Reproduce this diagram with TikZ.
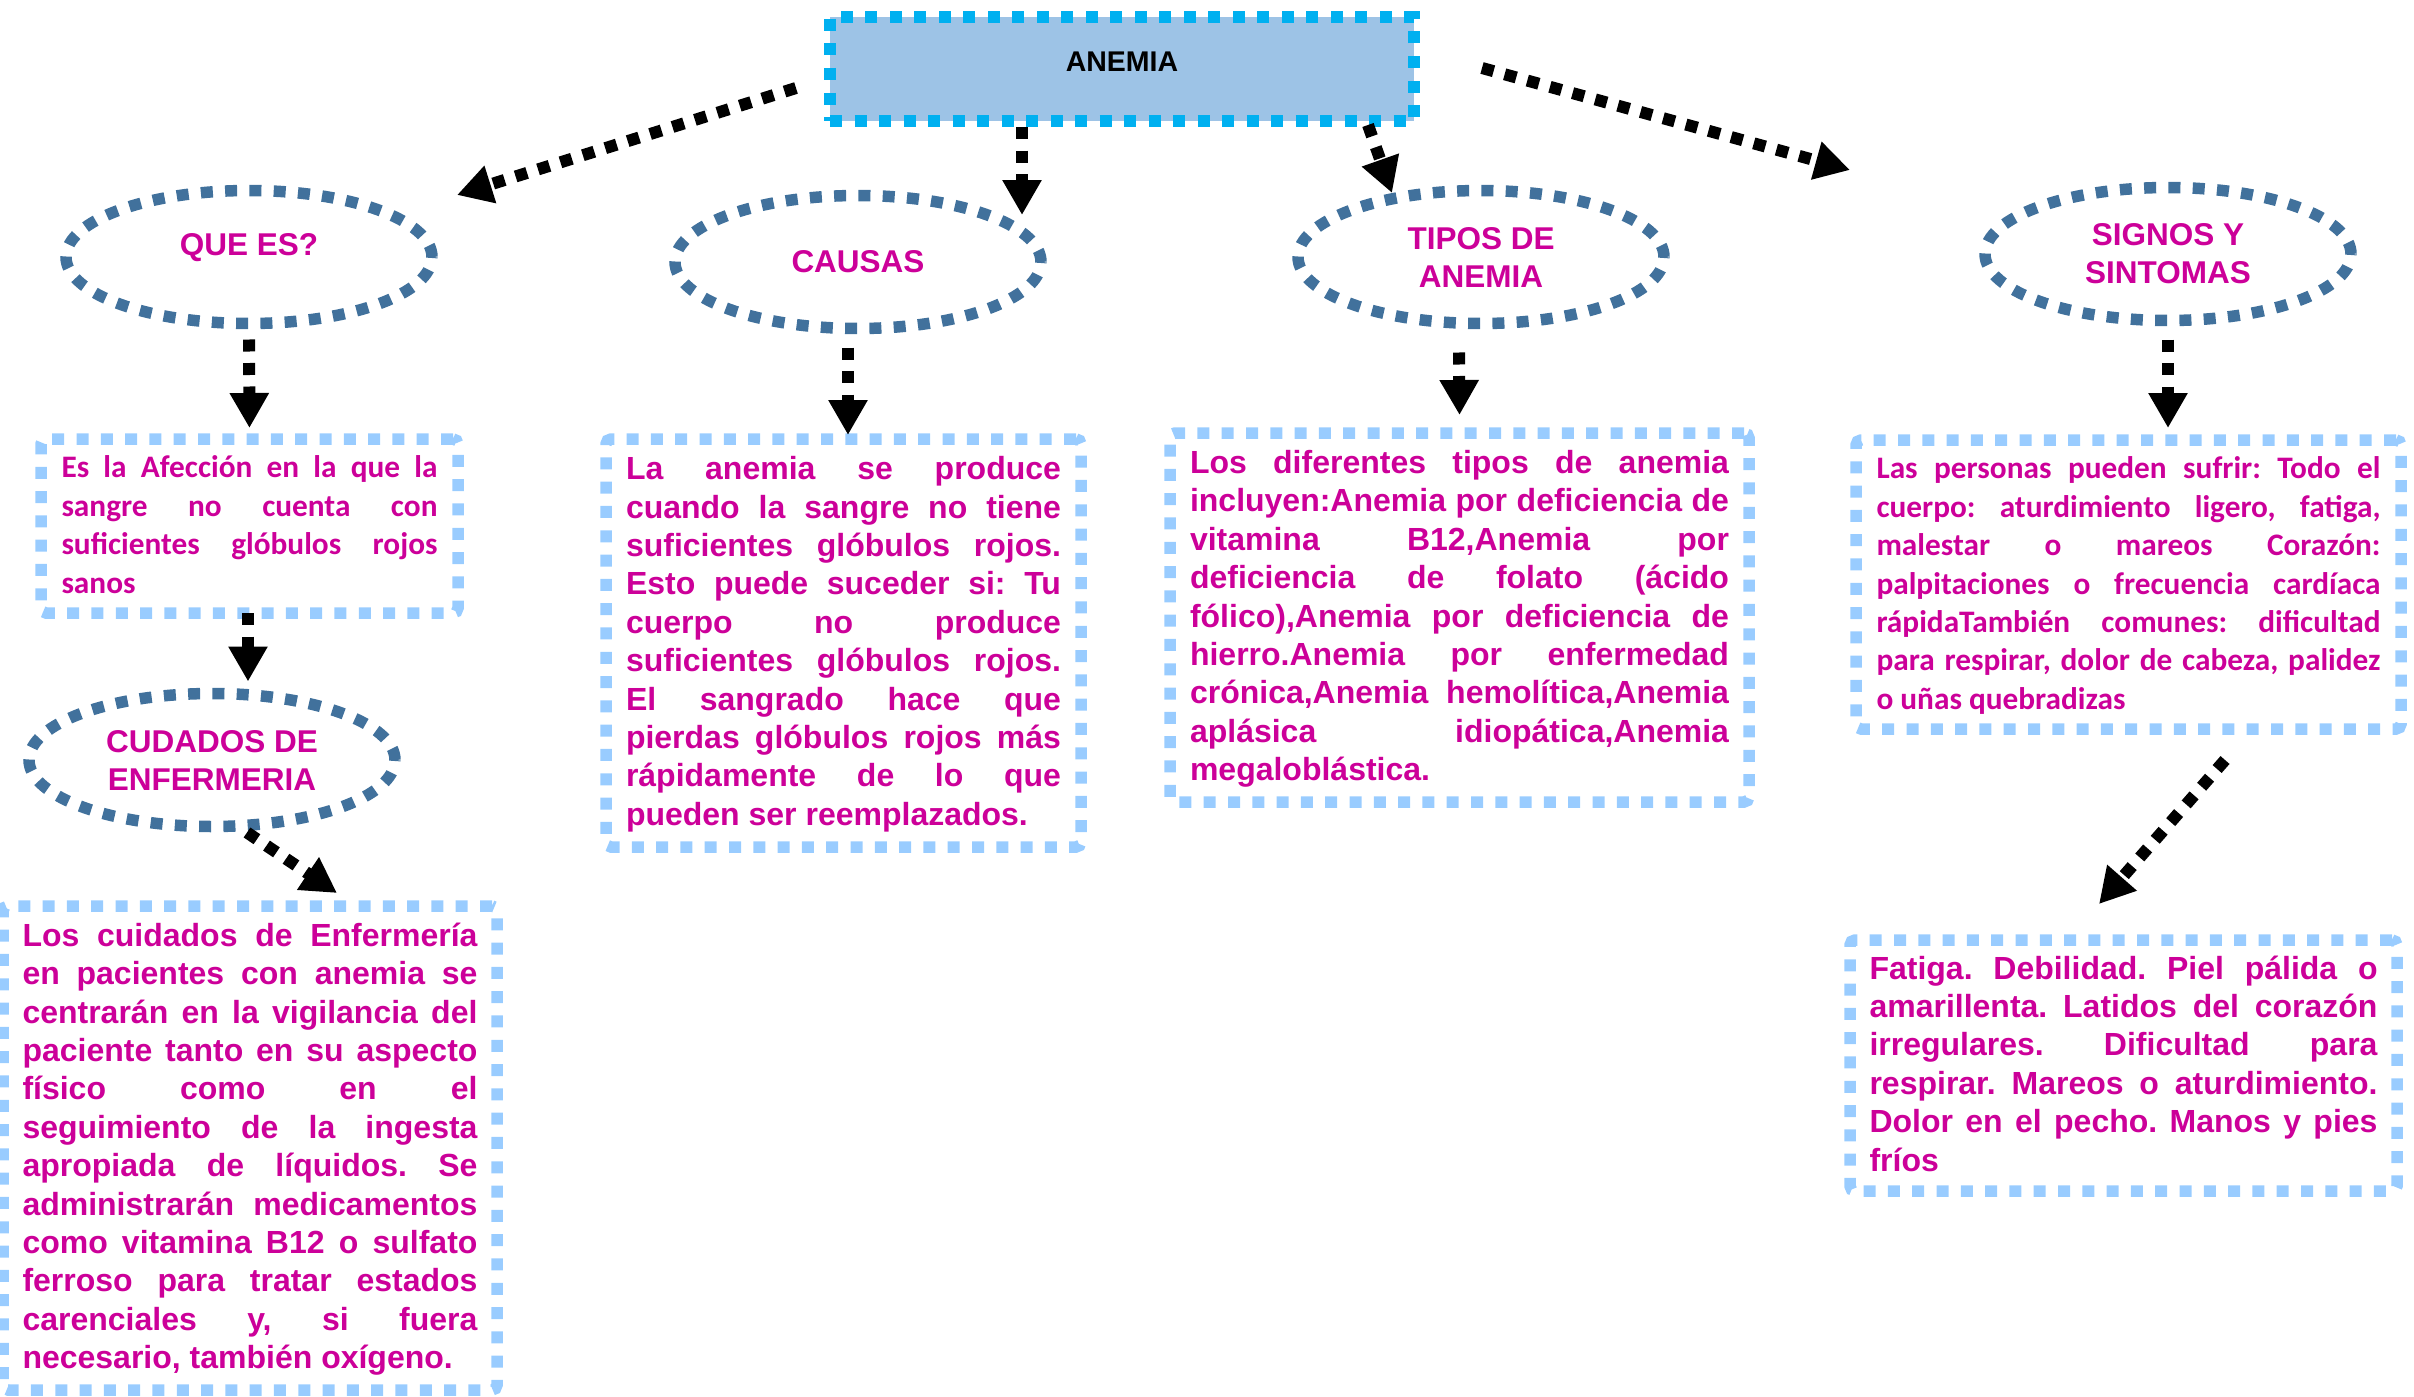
\documentclass[tikz,border=0pt]{standalone}
\usepackage{fontspec}
\setmainfont{Liberation Sans}
\newfontfamily\calibri{Carlito}
\usetikzlibrary{shapes.geometric,arrows.meta,calc}
\definecolor{rosa}{HTML}{CC0099}
\definecolor{cielo}{HTML}{99CCFF}
\definecolor{turquesa}{HTML}{00B0F0}
\definecolor{celeste}{HTML}{9DC3E6}
\definecolor{acero}{HTML}{41719C}
\newcommand{\arriba}{\noindent\rule{0pt}{28pt}}
\newcommand{\abajo}{\rule[-9pt]{0pt}{9pt}}
\tolerance=10000
\hbadness=10000
\hyphenpenalty=10000
\frenchspacing
\begin{document}
\begin{tikzpicture}[x=1pt,y=-1pt]
	\tikzstyle{every node}=[inner sep=0pt,outer sep=0pt]
	\tikzstyle{tema}=[ellipse,draw=acero,line width=11.5pt,dash pattern=on 12pt off 12.3pt,minimum width=366pt,minimum height=133pt,text=rosa,align=center,font=\bfseries\fontsize{31.5}{38}\selectfont]
	\tikzstyle{caja}=[rectangle,draw=cielo,line width=11.5pt,dash pattern=on 12pt off 12.3pt,rounded corners=5pt,text=rosa,align=justify,font=\bfseries\fontsize{32}{38.4}\selectfont]
	\tikzstyle{cajacal}=[caja,font=\calibri\bfseries\fontsize{31.3}{38.4}\selectfont]
	\tikzstyle{flecha}=[black,line width=12pt,dash pattern=on 12pt off 11.5pt,-{Triangle[length=35pt,width=37pt]}]
	\useasboundingbox (0,0) rectangle (2414,1397);
	\node[draw=turquesa,fill=celeste,line width=12pt,dash pattern=on 12pt off 12.5pt,minimum width=584pt,minimum height=104pt,text depth=14pt,font=\bfseries\fontsize{28.5}{34}\selectfont] (anemia) at (1122,69) {ANEMIA};
	\node[tema,text depth=24pt] (quees) at (249,257) {QUE ES?};
	\node[tema] (causas) at (858,262) {CAUSAS};
	\node[tema] (tipos) at (1481,257) {TIPOS DE\\ANEMIA};
	\node[tema] (signos) at (2168,254) {SIGNOS Y\\SINTOMAS};
	\node[tema] (cudados) at (212,760) {CUDADOS DE\\ENFERMERIA};
	\node[cajacal,minimum width=417pt,minimum height=174pt,text width=376pt] (def) at (249.5,526) {\arriba Es la Afección en la que la\linebreak sangre no cuenta con\linebreak suficientes glóbulos rojos\linebreak sanos\abajo};
	\node[caja,minimum width=475pt,minimum height=408pt,text width=435pt] (causasbox) at (843.5,643) {\arriba La anemia se produce\linebreak cuando la sangre no tiene\linebreak suficientes glóbulos rojos.\linebreak Esto puede suceder si: Tu\linebreak cuerpo no produce\linebreak suficientes glóbulos rojos.\linebreak El sangrado hace que\linebreak pierdas glóbulos rojos más\linebreak rápidamente de lo que\linebreak pueden ser reemplazados.\abajo};
	\node[caja,minimum width=579pt,minimum height=369pt,text width=539pt] (tiposbox) at (1459.5,617.5) {\arriba Los diferentes tipos de anemia\linebreak incluyen:Anemia por deficiencia de\linebreak vitamina B12,Anemia por\linebreak deficiencia de folato (ácido\linebreak fólico),Anemia por deficiencia de\linebreak hierro.Anemia por enfermedad\linebreak crónica,Anemia hemolítica,Anemia\linebreak aplásica idiopática,Anemia\linebreak megaloblástica.\abajo};
	\node[cajacal,minimum width=545pt,minimum height=289pt,text width=504pt] (signosbox) at (2128.5,584.5) {\arriba Las personas pueden sufrir: Todo el\linebreak cuerpo: aturdimiento ligero, fatiga,\linebreak malestar o mareos Corazón:\linebreak palpitaciones o frecuencia cardíaca\linebreak rápidaTambién comunes: dificultad\linebreak para respirar, dolor de cabeza, palidez\linebreak o uñas quebradizas\abajo};
	\node[caja,minimum width=547pt,minimum height=251pt,text width=508pt] (sintomas) at (2123.5,1065.5) {\arriba Fatiga. Debilidad. Piel pálida o\linebreak amarillenta. Latidos del corazón\linebreak irregulares. Dificultad para\linebreak respirar. Mareos o aturdimiento.\linebreak Dolor en el pecho. Manos y pies\linebreak fríos\abajo};
	\node[caja,minimum width=494pt,minimum height=484pt,text width=455pt] (cuidados) at (250,1148) {\arriba Los cuidados de Enfermería\linebreak en pacientes con anemia se\linebreak centrarán en la vigilancia del\linebreak paciente tanto en su aspecto\linebreak físico como en el\linebreak seguimiento de la ingesta\linebreak apropiada de líquidos. Se\linebreak administrarán medicamentos\linebreak como vitamina B12 o sulfato\linebreak ferroso para tratar estados\linebreak carenciales y, si fuera\linebreak necesario, también oxígeno.\abajo};
	\draw[flecha] ($(anemia.west)+(-34,19)$) -- ($(quees.center)+(208,-62)$);
	\draw[flecha] ($(anemia.south)+(-100,6)$) -- ($(causas.center)+(164,-47)$);
	\draw[flecha] ($(anemia.south)+(246,4)$) -- ($(tipos.center)+(-89,-64)$);
	\draw[flecha] ($(anemia.east)+(68,-1)$) -- ($(signos.center)+(-318,-84)$);
	\draw[flecha,shorten <=16pt,shorten >=11pt] (quees.south) -- (def.north);
	\draw[flecha] ($(def.south)+(-1.5,0)$) -- ($(cudados.north)+(36,-12)$);
	\draw[flecha] ($(cudados.south)+(35,6)$) -- ($(cuidados.north)+(87,-13)$);
	\draw[flecha] ($(causas.south)+(-10,19)$) -- ($(causasbox.north)+(4.5,-4)$);
	\draw[flecha] ($(tipos.south)+(-22,29)$) -- ($(tiposbox.north)+(0,-18)$);
	\draw[flecha] ($(signos.south)+(0,19)$) -- ($(signosbox.north)+(39.5,-12)$);
	\draw[flecha] ($(signosbox.south)+(96.5,31)$) -- ($(sintomas.north)+(-24.5,-36)$);
\end{tikzpicture}
\end{document}
